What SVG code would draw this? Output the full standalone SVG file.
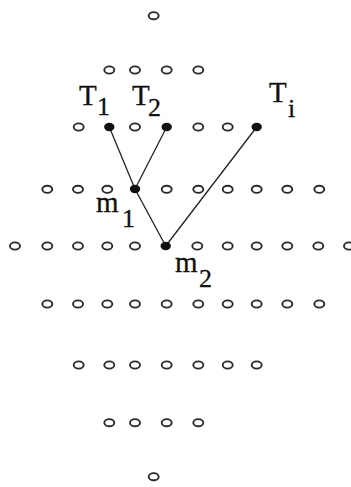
<svg xmlns="http://www.w3.org/2000/svg" width="351" height="487" viewBox="0 0 351 487">
<style>
.o{fill:none;stroke:#2a2a2a;stroke-width:1.9}
.f{fill:#111}
.e{stroke:#222;stroke-width:1.3;fill:none}
.t{font-family:"Liberation Serif","Times New Roman",serif;font-size:29px;fill:#111;stroke:#111;stroke-width:0.3}
.s{font-size:26px}
</style>
<rect width="351" height="487" fill="#fff"/>
<g id="connectors">
<line class="e" x1="109.3" y1="127" x2="135" y2="189"/>
<line class="e" x1="166.7" y1="127" x2="135" y2="189"/>
<line class="e" x1="135" y1="189" x2="165.7" y2="246"/>
<line class="e" x1="256.7" y1="127" x2="165.7" y2="246"/>
</g>
<g id="row0">
<ellipse class="o" cx="153.7" cy="15.7" rx="5" ry="3.6"/>
</g>
<g id="row1">
<ellipse class="o" cx="109.3" cy="70" rx="5" ry="3.6"/>
<ellipse class="o" cx="135" cy="70" rx="5" ry="3.6"/>
<ellipse class="o" cx="166.7" cy="70" rx="5" ry="3.6"/>
<ellipse class="o" cx="198.3" cy="70" rx="5" ry="3.6"/>
</g>
<g id="row2">
<ellipse class="o" cx="78.7" cy="127" rx="5" ry="3.6"/>
<ellipse class="o" cx="135" cy="127" rx="5" ry="3.6"/>
<ellipse class="o" cx="198.3" cy="127" rx="5" ry="3.6"/>
<ellipse class="o" cx="227.7" cy="127" rx="5" ry="3.6"/>
</g>
<g id="T1">
<ellipse class="f" cx="109.3" cy="127" rx="5.2" ry="4.2"/>
<text class="t" x="79" y="105">T<tspan class="s" x="97" y="115">1</tspan></text>
</g>
<g id="T2">
<ellipse class="f" cx="166.7" cy="127" rx="5.2" ry="4.2"/>
<text class="t" x="132" y="105">T<tspan class="s" x="148" y="116">2</tspan></text>
</g>
<g id="Ti">
<ellipse class="f" cx="256.7" cy="127" rx="5.2" ry="4.2"/>
<text class="t" x="269" y="102">T</text>
<text class="t s" x="288" y="117">i</text>
</g>
<g id="row3">
<ellipse class="o" cx="47.3" cy="189.3" rx="5" ry="3.6"/>
<ellipse class="o" cx="78" cy="189.3" rx="5" ry="3.6"/>
<ellipse class="o" cx="107.3" cy="189.3" rx="5" ry="3.6"/>
<ellipse class="o" cx="166.7" cy="189.3" rx="5" ry="3.6"/>
<ellipse class="o" cx="198.3" cy="189.3" rx="5" ry="3.6"/>
<ellipse class="o" cx="227.7" cy="189.3" rx="5" ry="3.6"/>
<ellipse class="o" cx="256.7" cy="189.3" rx="5" ry="3.6"/>
<ellipse class="o" cx="287.3" cy="189.3" rx="5" ry="3.6"/>
<ellipse class="o" cx="319.3" cy="189.3" rx="5" ry="3.6"/>
</g>
<g id="m1">
<ellipse class="f" cx="135" cy="189" rx="5.2" ry="4.2"/>
<text class="t" x="96" y="212">m<tspan class="s" x="122" y="227">1</tspan></text>
</g>
<g id="row4">
<ellipse class="o" cx="15" cy="246" rx="5" ry="3.6"/>
<ellipse class="o" cx="47.3" cy="246" rx="5" ry="3.6"/>
<ellipse class="o" cx="78" cy="246" rx="5" ry="3.6"/>
<ellipse class="o" cx="107.3" cy="246" rx="5" ry="3.6"/>
<ellipse class="o" cx="135" cy="246" rx="5" ry="3.6"/>
<ellipse class="o" cx="197.3" cy="246" rx="5" ry="3.6"/>
<ellipse class="o" cx="227.7" cy="246" rx="5" ry="3.6"/>
<ellipse class="o" cx="256.7" cy="246" rx="5" ry="3.6"/>
<ellipse class="o" cx="287.3" cy="246" rx="5" ry="3.6"/>
<ellipse class="o" cx="318.3" cy="246" rx="5" ry="3.6"/>
<ellipse class="o" cx="349" cy="246" rx="5" ry="3.6"/>
</g>
<g id="m2">
<ellipse class="f" cx="165.7" cy="246" rx="5.2" ry="4.2"/>
<text class="t" x="175" y="272">m<tspan class="s" x="199" y="287">2</tspan></text>
</g>
<g id="row5">
<ellipse class="o" cx="47.3" cy="304" rx="5" ry="3.6"/>
<ellipse class="o" cx="78" cy="304" rx="5" ry="3.6"/>
<ellipse class="o" cx="107.3" cy="304" rx="5" ry="3.6"/>
<ellipse class="o" cx="135" cy="304" rx="5" ry="3.6"/>
<ellipse class="o" cx="166.7" cy="304" rx="5" ry="3.6"/>
<ellipse class="o" cx="198.3" cy="304" rx="5" ry="3.6"/>
<ellipse class="o" cx="227.7" cy="304" rx="5" ry="3.6"/>
<ellipse class="o" cx="256.7" cy="304" rx="5" ry="3.6"/>
<ellipse class="o" cx="287.3" cy="304" rx="5" ry="3.6"/>
<ellipse class="o" cx="319.3" cy="304" rx="5" ry="3.6"/>
</g>
<g id="row6">
<ellipse class="o" cx="78.7" cy="365" rx="5" ry="3.6"/>
<ellipse class="o" cx="109.3" cy="365" rx="5" ry="3.6"/>
<ellipse class="o" cx="135" cy="365" rx="5" ry="3.6"/>
<ellipse class="o" cx="166.7" cy="365" rx="5" ry="3.6"/>
<ellipse class="o" cx="198.3" cy="365" rx="5" ry="3.6"/>
<ellipse class="o" cx="227.7" cy="365" rx="5" ry="3.6"/>
<ellipse class="o" cx="256.7" cy="365" rx="5" ry="3.6"/>
</g>
<g id="row7">
<ellipse class="o" cx="109.3" cy="422.7" rx="5" ry="3.6"/>
<ellipse class="o" cx="135" cy="422.7" rx="5" ry="3.6"/>
<ellipse class="o" cx="166.7" cy="422.7" rx="5" ry="3.6"/>
<ellipse class="o" cx="198.3" cy="422.7" rx="5" ry="3.6"/>
</g>
<g id="row8">
<ellipse class="o" cx="153.7" cy="476.7" rx="5" ry="3.6"/>
</g>
</svg>
